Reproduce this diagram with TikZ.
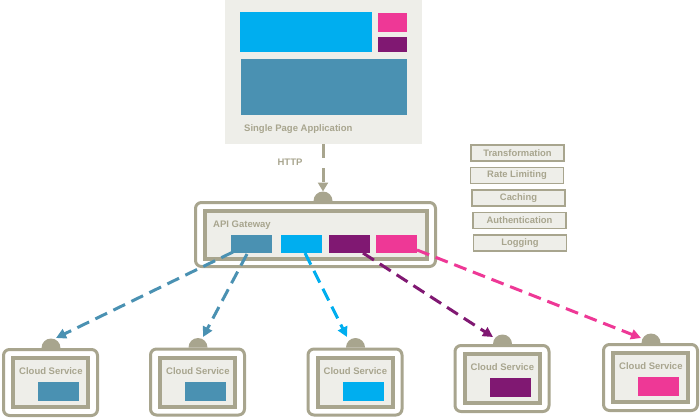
\documentclass[tikz,border=0pt]{standalone}
\usepackage{fontspec}
\setmainfont{Liberation Sans}
\usetikzlibrary{arrows.meta}
\definecolor{gr}{RGB}{168,165,142}
\definecolor{lt}{RGB}{238,238,233}
\definecolor{cTeal}{RGB}{74,145,178}
\definecolor{cBlue}{RGB}{0,174,239}
\definecolor{cPurple}{RGB}{128,24,114}
\definecolor{cPink}{RGB}{238,56,150}
\begin{document}
\begin{tikzpicture}[x=1pt,y=-1pt,
  box/.style={inner sep=0pt, outer sep=0pt},
  outerbox/.style={box, draw=gr, line width=3pt, fill=white, rounded corners=6pt},
  innerbox/.style={box, draw=gr, line width=4pt, fill=lt},
  colbox/.style={box, fill=#1},
  mwbox/.style={box, draw=gr, line width=1.8pt, fill=lt, minimum width=93pt, minimum height=16pt,
    text=gr, font=\bfseries\fontsize{9.4}{10}\selectfont},
  lbl/.style={inner sep=0pt, text=gr, font=\bfseries\fontsize{9.5}{10}\selectfont, anchor=base west},
  flow/.style={line width=3pt, draw=#1, dash pattern=on 13pt off 7pt,
    -{Triangle[length=10pt,width=10pt]}, #1},
]
\useasboundingbox (0,0) rectangle (700,418);

% Single page application
\node[box, fill=lt, minimum width=197pt, minimum height=144pt] (spa) at (323.5,72) {};
\node[colbox=cBlue, minimum width=132pt, minimum height=40pt] (spaB) at (306,32) {};
\node[colbox=cPink, minimum width=29pt, minimum height=19pt] (spaP) at (392.5,22.5) {};
\node[colbox=cPurple, minimum width=29pt, minimum height=15pt] (spaU) at (392.5,44.5) {};
\node[colbox=cTeal, minimum width=166pt, minimum height=56pt] (spaT) at (324,87) {};
\node[lbl] (spaL) at (244,131) {Single Page Application};

% HTTP
\node[lbl, anchor=center] (http) at (290,162) {HTTP};

% API gateway
\fill[gr] (313.5,201) arc[start angle=180, end angle=360, radius=9.5];
\coordinate (gwport) at (323,191.5);
\node[outerbox, minimum width=240pt, minimum height=64pt] (gwO) at (315.5,234.5) {};
\node[innerbox, minimum width=222pt, minimum height=48pt] (gwI) at (316,235) {};
\node[lbl] (gwL) at (213,227) {API Gateway};
\node[colbox=cTeal, minimum width=41pt, minimum height=18pt] (gT) at (251.5,244) {};
\node[colbox=cBlue, minimum width=41pt, minimum height=18pt] (gB) at (301,244) {};
\node[colbox=cPurple, minimum width=41pt, minimum height=18pt] (gU) at (349.5,244) {};
\node[colbox=cPink, minimum width=41pt, minimum height=18pt] (gP) at (396.5,244) {};

\draw[line width=3pt, draw=gr, dash pattern=on 14pt off 10pt, -{Triangle[length=9pt,width=10pt]}, gr]
  (spa.south -| gwport) -- (gwport);

% Middleware
\node[mwbox] (m1) at (517.5,153) {Transformation};
\node[mwbox] (m2) at (517,175.5) {Rate Limiting};
\node[mwbox] (m3) at (518.5,198) {Caching};
\node[mwbox] (m4) at (519.5,220.5) {Authentication};
\node[mwbox] (m5) at (520,243) {Logging};

% Cloud services
\foreach \i/\cx/\cy/\col in {1/50.5/382.5/cTeal, 2/197.5/382/cTeal, 3/355/382/cBlue, 4/502/378.5/cPurple, 5/650.5/377.5/cPink}{
  \fill[gr] (\cx-9.5+0.5,\cy-34.5) arc[start angle=180, end angle=360, radius=9.5];
  \node[outerbox, minimum width=94pt, minimum height=66pt] (svc\i) at (\cx,\cy) {};
  \node[innerbox, minimum width=75pt, minimum height=49pt] (svcI\i) at (\cx,\cy) {};
  \node[lbl] (svcL\i) at (\cx-31.5,\cy-8) {Cloud Service};
  \node[colbox=\col, minimum width=41pt, minimum height=19pt] (svcB\i) at (\cx+8,\cy+9) {};
}

% Flow arrows
\coordinate (s1) at (233,252);
\coordinate (s2) at (247,254);
\coordinate (s3) at (305,253);
\coordinate (s4) at (363,253);
\coordinate (s5) at (417,250);
\coordinate (t1) at (56,338);
\coordinate (t2) at (203,337);
\coordinate (t3) at (347,337);
\coordinate (t4) at (493,337);
\coordinate (t5) at (641,338);
\draw[flow=cTeal] (s1) -- (t1);
\draw[flow=cTeal] (s2) -- (t2);
\draw[flow=cBlue] (s3) -- (t3);
\draw[flow=cPurple] (s4) -- (t4);
\draw[flow=cPink] (s5) -- (t5);
\end{tikzpicture}
\end{document}
